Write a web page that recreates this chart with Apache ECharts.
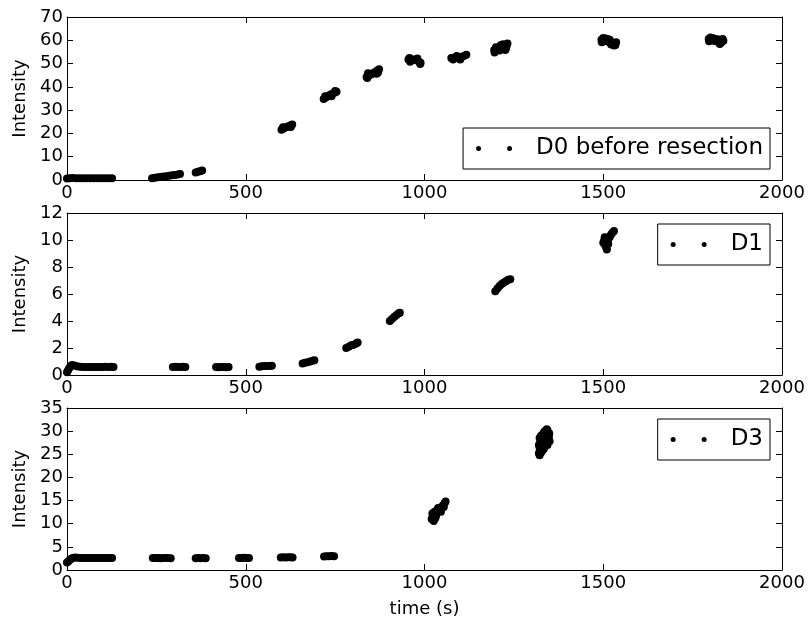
<!DOCTYPE html>
<html>
<head>
<meta charset="utf-8">
<script src="https://cdn.jsdelivr.net/npm/echarts@6/dist/echarts.min.js"></script>
<style>
html,body{margin:0;padding:0;background:#fff;}
#chart{width:810px;height:625px;}
</style>
</head>
<body>
<div id="chart"></div>
<script>
// ---- data (time s, intensity) ----
var seriesNames = ['D0 before resection', 'D1', 'D3'];
var xTicks = [0, 500, 1000, 1500, 2000];
var yMax = [70, 12, 35];
var yStep = [10, 2, 5];

var d0 = [
  [0,0.6],[8,0.8],[16,0.9],[26,0.8],[36,0.8],[46,0.8],[56,0.8],[66,0.8],[76,0.8],[86,0.8],[96,0.8],[106,0.8],[116,0.8],[126,0.8],
  [238,0.8],[246,1.0],[254,1.2],[262,1.3],[270,1.5],[278,1.6],[286,1.8],[294,2.0],[302,2.2],[310,2.4],[316,2.6],
  [360,3.2],[366,3.5],[372,3.8],[378,4.1],
  [600,21.6],[606,22.1],[612,22.6],[618,23.0],[624,23.4],[630,23.8],[604,22.6],[626,22.8],
  [718,34.8],[724,35.4],[730,36.0],[736,36.6],[742,37.0],[748,37.5],[754,37.9],[722,36.0],[740,36.0],[750,38.2],
  [838,44.2],[844,44.8],[850,45.3],[856,45.8],[862,46.4],[868,47.0],[873,47.6],[842,45.8],[866,45.6],[840,43.8],[870,46.2],
  [955,51.8],[962,51.9],[969,51.7],[976,51.5],[983,51.0],[989,50.4],[960,50.8],[980,52.2],[988,49.8],[958,52.4],
  [1075,52.4],[1082,52.5],[1089,52.5],[1096,52.6],[1103,52.8],[1110,53.3],[1117,53.8],[1090,53.2],[1100,51.8],[1080,51.8],
  [1195,55.8],[1202,56.3],[1209,56.8],[1216,57.2],[1223,57.5],[1230,57.8],[1200,57.0],[1210,55.6],[1220,58.3],[1228,56.6],[1196,54.8],[1214,58.0],[1226,55.8],[1232,58.6],
  [1495,60.2],[1502,59.8],[1509,59.6],[1516,59.4],[1523,59.0],[1530,58.6],[1536,59.2],[1500,61.0],[1512,60.6],[1522,58.2],[1530,57.8],[1496,59.2],[1506,60.8],[1518,60.2],[1534,58.0],
  [1795,60.6],[1802,60.2],[1809,59.8],[1816,59.6],[1823,59.4],[1830,59.0],[1836,59.8],[1800,61.2],[1826,58.4],[1812,60.6],[1796,59.6],[1806,61.0],[1820,60.4],[1834,60.6]
];

var d1 = [
  [0,0.2],[3,0.35],[6,0.5],[10,0.65],[14,0.75],[20,0.7],[28,0.65],[36,0.62],[44,0.6],[52,0.6],[60,0.6],[68,0.6],[76,0.6],[84,0.6],[92,0.6],[100,0.6],[108,0.62],[116,0.6],[124,0.62],[130,0.6],
  [296,0.6],[303,0.62],[310,0.6],[317,0.6],[324,0.62],[331,0.6],
  [417,0.6],[424,0.58],[431,0.6],[438,0.6],[445,0.58],[452,0.6],
  [538,0.62],[545,0.65],[552,0.66],[559,0.67],[566,0.67],[573,0.68],
  [659,0.85],[666,0.9],[673,0.95],[680,1.0],[687,1.05],[692,1.1],
  [781,2.0],[788,2.1],[795,2.2],[802,2.25],[809,2.33],[813,2.4],
  [903,4.0],[909,4.15],[915,4.3],[921,4.42],[927,4.55],[931,4.62],
  [1198,6.2],[1204,6.4],[1210,6.6],[1216,6.75],[1222,6.85],[1228,6.95],[1234,7.05],[1240,7.1],
  [1500,9.8],[1503,10.0],[1506,9.6],[1509,9.4],[1512,9.9],[1515,10.2],[1518,10.2],[1522,10.4],[1526,10.55],[1530,10.66],[1510,9.3],[1504,10.2],[1508,10.1],[1514,9.7]
];

var d3 = [
  [0,1.6],[4,1.9],[8,2.2],[12,2.45],[16,2.6],[22,2.7],[30,2.65],[38,2.6],[46,2.6],[54,2.6],[62,2.6],[70,2.6],[78,2.6],[86,2.6],[94,2.6],[102,2.6],[110,2.6],[118,2.6],[126,2.6],
  [240,2.6],[247,2.6],[254,2.6],[261,2.55],[268,2.6],[275,2.6],[282,2.6],[290,2.55],
  [360,2.55],[367,2.6],[374,2.55],[381,2.6],[388,2.55],
  [481,2.6],[488,2.6],[495,2.65],[502,2.6],[509,2.6],
  [598,2.7],[605,2.75],[612,2.7],[619,2.75],[626,2.75],[631,2.7],
  [719,2.9],[726,2.95],[733,2.95],[740,3.0],[747,2.95],
  [1020,11.0],[1022,12.2],[1026,10.6],[1028,12.6],[1032,11.6],[1036,12.4],[1040,12.8],[1044,13.2],[1048,13.6],[1052,14.0],[1056,14.4],[1059,14.8],[1024,11.4],[1034,12.8],[1030,11.2],[1038,13.4],[1046,12.6],[1054,13.6],
  [1320,25.2],[1320,27.0],[1322,28.5],[1324,26.2],[1326,29.0],[1328,27.5],[1330,25.8],[1332,29.5],[1334,28.0],[1336,30.0],[1338,27.0],[1340,29.0],[1344,30.2],[1346,28.0],[1349,29.5],[1350,27.8],[1322,24.8],
  [1324,27.8],[1326,25.4],[1328,28.8],[1330,26.8],[1332,27.2],[1334,26.2],[1336,28.6],[1338,29.6],[1340,27.6],[1342,28.4],[1344,27.0],[1348,28.8],[1342,30.4],[1346,29.6],[1322,26.4]
];

// ---- layout ----
var FONT = 'DejaVu Sans';
var grids = [
  {left: 67, right: 28, top: 17, height: 163},
  {left: 67, right: 28, top: 213, height: 162},
  {left: 67, right: 28, top: 408, height: 162}
];
var legendTops = [128, 224, 419];
var allData = [d0, d1, d3];

var lineStyle = {color: '#000', width: 1};
var plain = function (v) { return String(v); };
var xAxes = [], yAxes = [], series = [], legends = [];
for (var i = 0; i < 3; i++) {
  xAxes.push({
    type: 'value', gridIndex: i, position: 'bottom',
    min: xTicks[0], max: xTicks[xTicks.length - 1], interval: xTicks[1] - xTicks[0],
    axisLine: {show: true, onZero: false, lineStyle: lineStyle},
    axisTick: {show: true, inside: true, length: 6, lineStyle: lineStyle},
    axisLabel: {show: true, color: '#000', fontFamily: FONT, fontSize: 18, margin: 4, formatter: plain},
    splitLine: {show: false},
    name: i === 2 ? 'time (s)' : '',
    nameLocation: 'middle', nameGap: 30,
    nameTextStyle: {color: '#000', fontFamily: FONT, fontSize: 18}
  });
  yAxes.push({
    type: 'value', gridIndex: i, position: 'left',
    min: 0, max: yMax[i], interval: yStep[i],
    axisLine: {show: true, onZero: false, lineStyle: lineStyle},
    axisTick: {show: true, inside: true, length: 6, lineStyle: lineStyle},
    axisLabel: {show: true, color: '#000', fontFamily: FONT, fontSize: 18, margin: 4, formatter: plain},
    splitLine: {show: false},
    name: 'Intensity', nameLocation: 'middle', nameGap: 37,
    nameTextStyle: {color: '#000', fontFamily: FONT, fontSize: 18}
  });
}
for (var i = 0; i < 3; i++) {
  xAxes.push({
    type: 'value', gridIndex: i, position: 'top',
    min: xTicks[0], max: xTicks[xTicks.length - 1], interval: xTicks[1] - xTicks[0],
    axisLine: {show: true, onZero: false, lineStyle: lineStyle},
    axisTick: {show: true, inside: true, length: 6, lineStyle: lineStyle},
    axisLabel: {show: false}, splitLine: {show: false}
  });
  yAxes.push({
    type: 'value', gridIndex: i, position: 'right',
    min: 0, max: yMax[i], interval: yStep[i],
    axisLine: {show: true, onZero: false, lineStyle: lineStyle},
    axisTick: {show: true, inside: true, length: 6, lineStyle: lineStyle},
    axisLabel: {show: false}, splitLine: {show: false}
  });
}
var dotsIcon = 'path://M0,2.5A2.5,2.5 0 1,1 5,2.5A2.5,2.5 0 1,1 0,2.5Z M31,2.5A2.5,2.5 0 1,1 36,2.5A2.5,2.5 0 1,1 31,2.5Z';
for (var i = 0; i < 3; i++) {
  series.push({
    name: seriesNames[i], type: 'scatter',
    xAxisIndex: i, yAxisIndex: i,
    data: allData[i], symbol: 'circle', symbolSize: 8,
    itemStyle: {color: '#000', opacity: 1},
    silent: true, animation: false
  });
  legends.push({
    data: [seriesNames[i]], right: 40, top: legendTops[i],
    orient: 'horizontal',
    icon: dotsIcon, itemWidth: 36, itemHeight: 5,
    itemStyle: {color: '#000', opacity: 1},
    padding: [9, 7, 9, 13],
    borderColor: '#000', borderWidth: 1, borderRadius: 0,
    backgroundColor: '#fff',
    textStyle: {color: '#000', fontFamily: FONT, fontSize: 23, padding: [0, 0, 0, 19]},
    selectedMode: false
  });
}

var chart = echarts.init(document.getElementById('chart'), null, {renderer: 'canvas'});
chart.setOption({
  animation: false,
  backgroundColor: '#fff',
  grid: grids,
  xAxis: xAxes,
  yAxis: yAxes,
  legend: legends,
  series: series
});
</script>
</body>
</html>
